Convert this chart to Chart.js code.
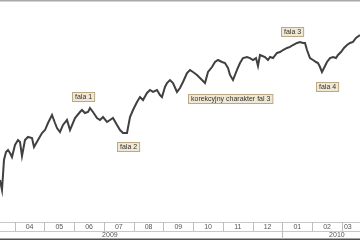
<!DOCTYPE html>
<html>
<head>
<meta charset="utf-8">
<script src="https://cdn.jsdelivr.net/npm/chart.js@4"></script>
<style>
  html, body { margin: 0; padding: 0; background: #fff; }
  #wrap { width: 360px; height: 240px; }
</style>
</head>
<body>
<div id="wrap"><canvas id="chart" width="360" height="240"></canvas></div>
<script>
// x = months elapsed since 1 Jan 2009 (3 = start of April 2009)
const dayPos = [
  2.506, 2.573, 2.640, 2.708, 2.775, 2.842, 2.909, 3.010, 3.111, 3.178,
  3.245, 3.346, 3.447, 3.582, 3.649, 3.783, 3.918, 4.019, 4.119, 4.254,
  4.355, 4.422, 4.523, 4.624, 4.758, 4.859, 5.027, 5.195, 5.262, 5.363,
  5.464, 5.531, 5.632, 5.766, 5.867, 5.968, 6.103, 6.203, 6.304, 6.439,
  6.540, 6.640, 6.775, 6.876, 6.977, 7.111, 7.212, 7.313, 7.447, 7.548,
  7.649, 7.783, 7.884, 7.951, 8.052, 8.119, 8.220, 8.321, 8.455, 8.556,
  8.657, 8.792, 8.893, 8.993, 9.128, 9.229, 9.397, 9.498, 9.632, 9.733,
  9.834, 9.968, 10.069, 10.170, 10.237, 10.338, 10.472, 10.573, 10.674, 10.808,
  10.909, 11.010, 11.111, 11.178, 11.245, 11.413, 11.514, 11.582, 11.682, 11.817,
  11.918, 12.019, 12.153, 12.254, 12.355, 12.489, 12.590, 12.691, 12.758, 12.825,
  12.926, 13.027, 13.128, 13.195, 13.262, 13.329, 13.397, 13.497, 13.598, 13.699,
  13.800, 13.867, 13.968, 14.069, 14.170, 14.271, 14.372, 14.472, 14.607
];
const closes = [
  22720, 21540, 25090, 26030, 26270, 25910, 25440, 26860, 27450, 27220,
  25560, 27450, 27810, 27690, 26630, 27450, 28280, 28630, 29460, 30410,
  29460, 28870, 28400, 29230, 29820, 28630, 30050, 30760, 31000, 30640,
  30760, 31230, 30760, 30050, 29820, 30170, 29580, 29820, 30050, 29230,
  28630, 28280, 28280, 30170, 31000, 31940, 32530, 32180, 33010, 33360,
  33130, 33360, 32770, 32530, 33720, 34190, 34540, 34190, 33130, 33600,
  34310, 35370, 35730, 35490, 35140, 34780, 34190, 35490, 36080, 36670,
  36910, 36670, 36550, 35960, 35140, 34540, 35730, 36550, 37140, 37260,
  37140, 36910, 37140, 36200, 37500, 37260, 36910, 37260, 37140, 37740,
  37850, 38090, 38330, 38450, 38680, 38920, 39040, 38920, 38920, 38090,
  37140, 36910, 36670, 36550, 36080, 35490, 35960, 36670, 37140, 37260,
  37140, 37500, 37850, 38330, 38680, 38920, 39040, 39510, 39860
];

const monthStarts = [2, 3, 4, 5, 6, 7, 8, 9, 10, 11, 12, 13, 14];
const monthLabels = ["03", "04", "05", "06", "07", "08", "09", "10", "11", "12", "01", "02", "03"];
const yearStarts = [0, 12];
const yearLabels = ["2009", "2010"];
const yearCenters = [6.2, 13.83];

const noteLabels = ["fala 1", "fala 2", "fala 3", "fala 4", "korekcyjny charakter fal 3"];
const noteX = [5.296, 6.809, 12.321, 13.497, 10.237];
const noteY = [32650, 26630, 40220, 33720, 32300];

const X_MIN = 2.506, X_MAX = 14.607;

const axisBand = {
  id: "axisBand",
  afterDraw(chart) {
    const { ctx, chartArea: a, scales: { x, y } } = chart;
    const W = chart.width;
    ctx.save();

    // frame lines
    ctx.fillStyle = "#a8a8a8";
    ctx.fillRect(0, 0, W, 1.5);
    ctx.fillStyle = "#c8c8c8";
    ctx.fillRect(0, a.bottom, W, 1);
    ctx.fillRect(0, a.bottom + 9, W, 1);
    ctx.fillStyle = "#505050";
    ctx.fillRect(0, a.bottom + 16.5, W, 2);

    ctx.font = "7px 'Liberation Sans', Arial, sans-serif";
    ctx.fillStyle = "#555";
    ctx.textBaseline = "middle";

    // month row (the cut-off first month gets no label)
    monthStarts.forEach((m, i) => {
      const p0 = x.getPixelForValue(m);
      const p1 = x.getPixelForValue(m + 1);
      if (m > X_MIN) {
        ctx.fillStyle = "#bdbdbd";
        ctx.fillRect(Math.round(p0), a.bottom, 1, 9);
      }
      if (p0 < a.left) return;
      const v0 = p0, v1 = Math.min(p1, a.right);
      ctx.fillStyle = "#555";
      if (p1 > a.right) {
        ctx.textAlign = "left";
        ctx.fillText(monthLabels[i], v0 + 2, a.bottom + 5);
      } else {
        ctx.textAlign = "center";
        ctx.fillText(monthLabels[i], (v0 + v1) / 2, a.bottom + 5);
      }
    });

    // year row
    yearStarts.forEach((m, i) => {
      if (m > X_MIN) {
        ctx.fillStyle = "#bdbdbd";
        ctx.fillRect(Math.round(x.getPixelForValue(m)), a.bottom + 9, 1, 8);
      }
      ctx.fillStyle = "#555";
      ctx.textAlign = "center";
      ctx.fillText(yearLabels[i], x.getPixelForValue(yearCenters[i]), a.bottom + 13.5);
    });

    // wave notes
    noteLabels.forEach((t, i) => {
      const cx = x.getPixelForValue(noteX[i]);
      const cy = y.getPixelForValue(noteY[i]);
      const w = ctx.measureText(t).width + 5;
      const h = 9;
      const bx = Math.round(cx - w / 2) + 0.5, by = Math.round(cy - h / 2) + 0.5;
      ctx.fillStyle = "#f1e8d4";
      ctx.fillRect(bx, by, w, h);
      ctx.strokeStyle = "#bba985";
      ctx.lineWidth = 1;
      ctx.strokeRect(bx, by, w, h);
      ctx.fillStyle = "#333";
      ctx.textAlign = "center";
      ctx.fillText(t, bx + w / 2, by + h / 2 + 0.5);
    });

    ctx.restore();
  }
};

document.addEventListener("DOMContentLoaded", () => {
  const ctx = document.getElementById("chart").getContext("2d");

  const points = dayPos.map((d, i) => ({ x: d, y: closes[i] }));

  new Chart(ctx, {
    type: "line",
    data: {
      datasets: [
        {
          data: points,
          borderColor: "#404040",
          borderWidth: 2,
          pointRadius: 0,
          tension: 0,
        },
      ],
    },
    options: {
      responsive: false,
      animation: false,
      layout: { padding: { top: 0, right: 0, bottom: 18, left: 0 } },
      plugins: {
        legend: { display: false },
        tooltip: { enabled: false },
      },
      scales: {
        x: { type: "linear", min: X_MIN, max: X_MAX, display: false },
        y: { min: 17760, max: 44000, display: false },
      },
    },
    plugins: [axisBand],
  });
});
</script>
</body>
</html>
